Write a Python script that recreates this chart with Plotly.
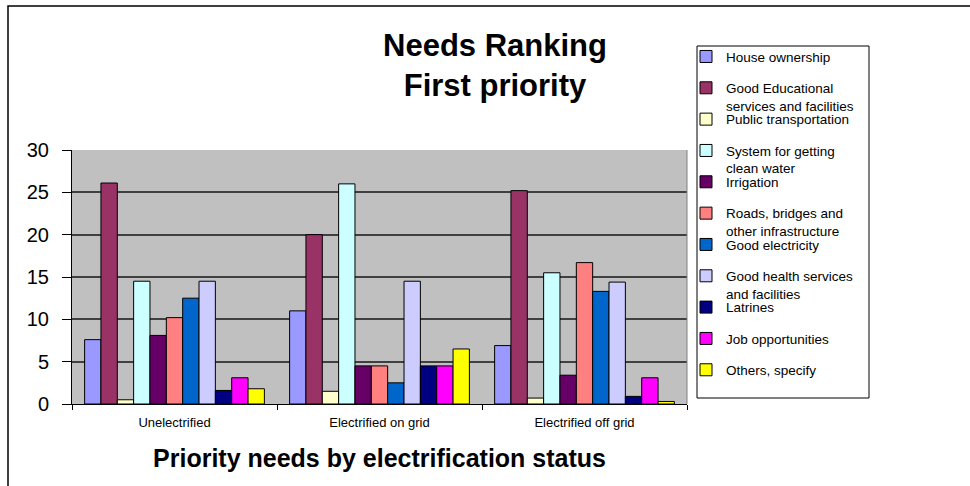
import plotly.graph_objects as go

# ---- data ----
categories = ["Unelectrified", "Electrified on grid", "Electrified off grid"]
need_names = [
    "House ownership",
    "Good Educational<br>services and facilities",
    "Public transportation",
    "System for getting<br>clean water",
    "Irrigation",
    "Roads, bridges and<br>other infrastructure",
    "Good electricity",
    "Good health services<br>and facilities",
    "Latrines",
    "Job opportunities",
    "Others, specify",
]
house_ownership = [7.6, 11.0, 6.9]
education = [26.1, 20.0, 25.2]
public_transport = [0.5, 1.5, 0.7]
clean_water = [14.5, 26.0, 15.5]
irrigation = [8.1, 4.5, 3.4]
roads = [10.2, 4.5, 16.7]
electricity = [12.5, 2.5, 13.3]
health = [14.5, 14.5, 14.4]
latrines = [1.6, 4.5, 0.9]
jobs = [3.1, 4.5, 3.1]
others = [1.8, 6.5, 0.3]
series_values = [house_ownership, education, public_transport, clean_water, irrigation,
                 roads, electricity, health, latrines, jobs, others]
colors = ["#9999FF", "#993366", "#FFFFCC", "#CCFFFF", "#660066", "#FF8080",
          "#0066CC", "#CCCCFF", "#000080", "#FF00FF", "#FFFF00"]
y_ticks = [0, 5, 10, 15, 20, 25, 30]

# ---- geometry (pixels of the 970x486 canvas) ----
W, H = 970, 486
ML, MR, MT, MB = 72, 283, 150, 82
PW, PH = W - ML - MR, H - MT - MB
FONT = "Liberation Sans, Arial, sans-serif"


def px_x(p):
    return (p - ML) / PW


def px_y(p):
    return (H - MB - p) / PH


fig = go.Figure()
legend_layouts = {}
for i, (name, vals, col) in enumerate(zip(need_names, series_values, colors)):
    lname = "legend" if i == 0 else f"legend{i + 1}"
    fig.add_trace(go.Bar(
        x=categories, y=vals, name=name,
        marker=dict(color=col, line=dict(color="black", width=1)),
        legend=lname,
    ))
    top_px = 56.7 + 31.33 * i - 15.5
    legend_layouts[lname] = dict(
        x=px_x(686), y=px_y(top_px), xanchor="left", yanchor="top",
        bgcolor="rgba(0,0,0,0)", borderwidth=0, valign="top",
        font=dict(family=FONT, size=13.5, color="black"),
        visible=True,
    )

fig.update_layout(
    width=W, height=H,
    margin=dict(l=ML, r=MR, t=MT, b=MB, autoexpand=False),
    paper_bgcolor="white", plot_bgcolor="#C0C0C0",
    barmode="group", bargap=0.123, bargroupgap=0,
    showlegend=True,
    font=dict(family=FONT, color="black"),
    title=dict(
        text="<b>Needs Ranking<br>First priority</b>",
        x=495 / W, xanchor="center", xref="container",
        y=1 - 56 / H, yanchor="top", yref="container",
        font=dict(family=FONT, size=31, color="black"),
    ),
    xaxis=dict(
        type="category", tickson="boundaries", ticks="outside", ticklen=5,
        tickcolor="black", showline=True, linecolor="black", linewidth=1,
        tickfont=dict(family=FONT, size=13, color="black"),
        ticklabelstandoff=6,
        title=dict(text="<b>Priority needs by electrification status</b>",
                   font=dict(family=FONT, size=25, color="black"), standoff=20),
        showgrid=False,
    ),
    yaxis=dict(
        range=[0, 30], tickvals=y_ticks, ticks="outside", ticklen=9,
        tickcolor="black", showline=True, linecolor="black", linewidth=1,
        tickfont=dict(family=FONT, size=20, color="black"),
        ticklabelstandoff=9,
        showgrid=True, gridcolor="#404040", gridwidth=1.5, zeroline=False,
    ),
    shapes=[
        # plot area right border
        dict(type="line", xref="paper", yref="paper", x0=1, x1=1, y0=0, y1=1,
             line=dict(color="#808080", width=1)),
        # legend box
        dict(type="rect", xref="paper", yref="paper",
             x0=px_x(697), x1=px_x(869), y0=px_y(398), y1=px_y(46),
             line=dict(color="black", width=1), fillcolor="rgba(0,0,0,0)", layer="below"),
        # chart frame
        dict(type="rect", xref="paper", yref="paper",
             x0=px_x(8), x1=px_x(990), y0=px_y(500), y1=px_y(6),
             line=dict(color="black", width=1.5), fillcolor="rgba(0,0,0,0)"),
    ],
    **legend_layouts,
)

fig.write_html("out.html")
